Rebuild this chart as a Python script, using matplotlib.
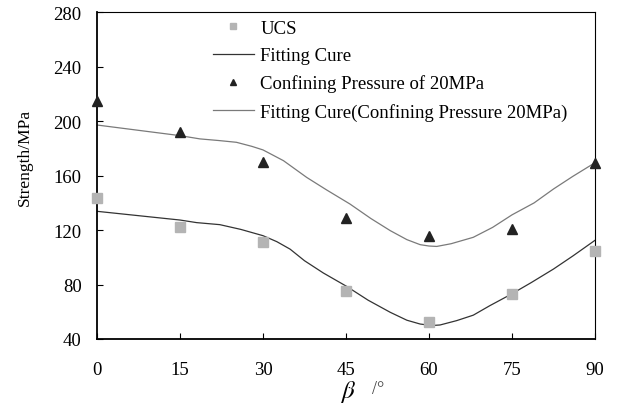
import matplotlib
matplotlib.use("Agg")
import matplotlib.pyplot as plt

plt.rcParams['font.family'] = ['Liberation Serif', 'DejaVu Serif']
plt.rcParams['mathtext.fontset'] = 'stix'

# measured points
beta = [0, 15, 30, 45, 60, 75, 90]
ucs = [143.6, 122.5, 111, 75, 52.7, 72.8, 104.4]
conf = [215, 192, 170, 129, 116, 121, 169]

# fitting curves
fit_ucs_x = [0, 15, 18, 22.2, 26, 30, 32.5, 34.9, 37.5, 40.9, 43.9, 45.1, 49, 53, 56, 58.4, 60.5, 62, 65, 68, 71, 74.9, 78.5, 82.5, 86, 90]
fit_ucs_y = [133.8, 127.4, 125.5, 124, 120.5, 115.9, 111.5, 106, 97.5, 88.5, 81.5, 78.7, 68.5, 59.6, 53.8, 51, 49.9, 50.3, 53.5, 57.5, 64.5, 73, 81.5, 91.4, 101, 112.5]
fit_conf_x = [0, 15, 18.6, 22, 25.2, 28, 30, 33.7, 37.9, 41.5, 45.7, 49.5, 53, 56, 58.4, 60, 61.4, 64, 68, 71.5, 75, 79, 82.5, 86, 90]
fit_conf_y = [197.2, 189.4, 187, 185.8, 184.5, 181.5, 178.9, 171, 158.7, 149.5, 139.2, 128.5, 119.6, 113, 109.3, 108.3, 108, 110, 114.7, 122, 131.2, 140, 150.2, 159.5, 169.5]

xticks = [0, 15, 30, 45, 60, 75, 90]
yticks = [40, 80, 120, 160, 200, 240, 280]

fig = plt.figure(figsize=(6.17, 4.10), dpi=100)
ax = fig.add_axes([97/617, 1-340/410, (595-97)/617, (340-13.3)/410])

ax.plot(beta, ucs, linestyle='none', marker='s', markersize=6.5, color='#b4b4b4',
        markeredgecolor='#b4b4b4', label='UCS', clip_on=False, zorder=3)
ax.plot(fit_ucs_x, fit_ucs_y, color='#333333', lw=0.9, label='Fitting Cure')
ax.plot(beta, conf, linestyle='none', marker='^', markersize=7, color='#222222',
        label='Confining Pressure of 20MPa', clip_on=False, zorder=3)
ax.plot(fit_conf_x, fit_conf_y, color='#7a7a7a', lw=0.9,
        label='Fitting Cure(Confining Pressure 20MPa)')

ax.set_xlim(0, 90)
ax.set_ylim(40, 280)
ax.set_xticks(xticks)
ax.set_yticks(yticks)
ax.tick_params(direction='in', length=4, width=0.8, labelsize=13.5, top=False, right=False)
ax.tick_params(axis='x', pad=16)
ax.tick_params(axis='y', pad=11)
for s in ['left', 'bottom']:
    ax.spines[s].set_linewidth(1.3)
for s in ['top', 'right']:
    ax.spines[s].set_linewidth(0.8)

ax.set_ylabel('Strength/MPa', fontsize=12.5)
ax.yaxis.set_label_coords((33 - 97) / 498, (340 - 157) / 326.7)

fig.text(348/617, 1-392/410, r'$\beta$', fontsize=18, ha='center', va='center')
fig.text(378/617, 1-390/410, '/°', fontsize=13, ha='center', va='center', color='#444444')

leg = ax.legend(loc='upper left', bbox_to_anchor=((205-97)/498, 1-(13-13.3)/326.7),
                frameon=False, fontsize=13.5, handlelength=2.2, handletextpad=0.35,
                labelspacing=0.55, borderaxespad=0, markerscale=0.7)

fig.savefig('out.png', dpi=100)
